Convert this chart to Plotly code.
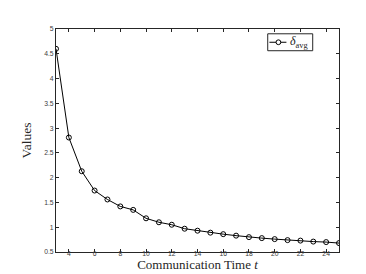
import plotly.graph_objects as go

t = list(range(3, 26))
delta_avg = [4.60, 2.81, 2.13, 1.74, 1.56, 1.42, 1.35, 1.18, 1.10, 1.05, 0.97, 0.93,
             0.89, 0.86, 0.83, 0.80, 0.78, 0.76, 0.74, 0.73, 0.71, 0.70, 0.68]
x_ticks = list(range(4, 26, 2))
y_ticks = [0.5, 1, 1.5, 2, 2.5, 3, 3.5, 4, 4.5, 5]
legend_label = "<i>δ</i><sub>avg</sub>"

W, H = 366, 274
ML, MR, MT, MB = 47.5, 35.4, 20.5, 29.7
PW, PH = W - ML - MR, H - MT - MB


def px2paper(x, y):
    return (x - ML) / PW, (H - MB - y) / PH


fig = go.Figure()
fig.add_trace(go.Scatter(
    x=t, y=delta_avg, mode="lines+markers",
    name=legend_label, showlegend=False,
    line=dict(color="black", width=1),
    marker=dict(symbol="circle-open", size=5, color="black", line=dict(width=1)),
))

axis_common = dict(
    showline=True, mirror="ticks", linecolor="#262626", linewidth=1,
    ticks="inside", ticklen=3, tickcolor="#262626", tickwidth=1,
    showgrid=False, zeroline=False,
    tickfont=dict(family="Liberation Sans", size=6.8, color="#404040"),
)

# legend box drawn in paper coordinates
bx0, by0 = px2paper(259.3, 42.3)
bx1, by1 = px2paper(304.3, 25.3)
lx0, ly = px2paper(261, 33.8)
lx1, _ = px2paper(278, 33.8)
mx, my = px2paper(270, 33.8)
rx = 2.4 / PW
ry = 2.4 / PH
tx, ty = px2paper(279.5, 33.8)

shapes = [
    dict(type="rect", xref="paper", yref="paper", x0=bx0, y0=by0, x1=bx1, y1=by1,
         line=dict(color="#262626", width=1), fillcolor="white", layer="above"),
    dict(type="line", xref="paper", yref="paper", x0=lx0, y0=ly, x1=lx1, y1=ly,
         line=dict(color="black", width=1), layer="above"),
    dict(type="circle", xref="paper", yref="paper", x0=mx - rx, y0=my - ry,
         x1=mx + rx, y1=my + ry, line=dict(color="black", width=1),
         fillcolor="white", layer="above"),
]

fig.update_layout(
    width=W, height=H,
    margin=dict(l=ML, r=MR, t=MT, b=MB),
    paper_bgcolor="white", plot_bgcolor="white",
    xaxis=dict(range=[3, 25], tickvals=x_ticks, ticklabelstandoff=-5,
               title=dict(text="Communication Time <i>t</i>",
                          font=dict(family="Liberation Serif", size=13, color="#262626"),
                          standoff=0),
               **axis_common),
    yaxis=dict(range=[0.5, 5], tickvals=y_ticks, ticktext=[str(v) for v in y_ticks],
               title=dict(text="Values",
                          font=dict(family="Liberation Serif", size=13.5, color="#262626"),
                          standoff=9),
               **axis_common),
    showlegend=False,
    shapes=shapes,
    annotations=[dict(xref="paper", yref="paper", x=tx, y=ty, xanchor="left",
                      yanchor="middle", showarrow=False, text=legend_label,
                      font=dict(family="Liberation Serif", size=12, color="#262626"))],
)

fig.write_html("out.html")
